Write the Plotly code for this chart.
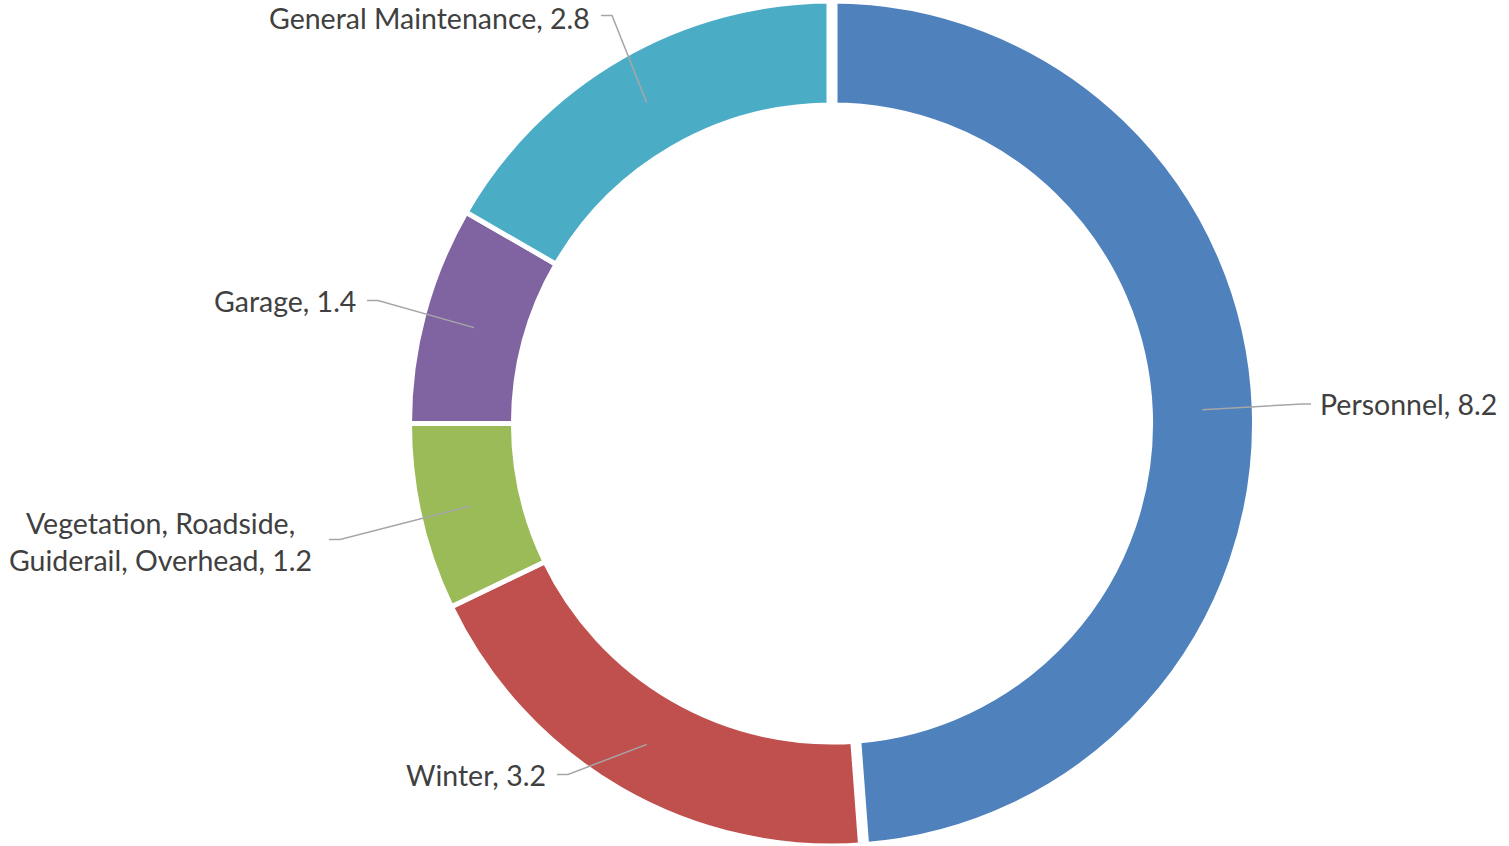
import math
import plotly.graph_objects as go

# ---- data ----
categories = ["Personnel", "Winter", "Vegetation, Roadside, Guiderail, Overhead",
              "Garage", "General Maintenance"]
values = [8.2, 3.2, 1.2, 1.4, 2.8]
colors = ["#4F81BD", "#C0504D", "#9BBB59", "#8064A2", "#4BACC6"]

# ---- layout / styling config ----
W, H = 1509, 846
M_T = 1
PH = H - M_T
CX = 832.0
R = PH / 2.0
CY = M_T + R
HOLE = 0.754
RING_MID = R * (1 + HOLE) / 2.0
FONT = "Lato, 'Open Sans', sans-serif"
FONT_SIZE = 28.5
TEXT_COLOR = "#404040"
LINE_COLOR = "#A6A6A6"
STUB = 11
GAP = 9

# elbow of each leader line, offset from the pie centre in px (y downward)
label_layout = {
    "Personnel": dict(dx=470, dy=-19.5, side="right", stub=9, gap=7),
    "Winter": dict(dx=-264, dy=351, side="left"),
    "Vegetation, Roadside, Guiderail, Overhead": dict(dx=-492, dy=116, side="left",
                                                      brk=", Guiderail", center_x=160),
    "Garage": dict(dx=-454, dy=-123, side="left"),
    "General Maintenance": dict(dx=-220, dy=-408, side="left", text_dy=3),
}


def px_to_paper(x, y):
    return x / W, 1 - (y - M_T) / PH


total = sum(values)
fig = go.Figure()
fig.add_trace(go.Pie(
    labels=categories, values=values, sort=False, direction="clockwise", rotation=0,
    hole=HOLE, marker=dict(colors=colors, line=dict(color="white", width=5)),
    textinfo="none", hoverinfo="label+value", showlegend=False,
    domain=dict(x=[(CX - R - 10) / W, (CX + R + 10) / W], y=[0, 1]),
))

shapes = []
annotations = []

# wider white gaps around the first (slightly exploded) slice
first_bounds = [0.0, values[0] / total * 360.0]
for ang in first_bounds:
    a = math.radians(ang)
    x0, y0 = CX + (R * HOLE - 10) * math.sin(a), CY - (R * HOLE - 10) * math.cos(a)
    x1, y1 = CX + (R + 10) * math.sin(a), CY - (R + 10) * math.cos(a)
    p0, p1 = px_to_paper(x0, y0), px_to_paper(x1, y1)
    shapes.append(dict(type="line", xref="paper", yref="paper", layer="above",
                       x0=p0[0], y0=p0[1], x1=p1[0], y1=p1[1],
                       line=dict(color="white", width=11)))

cum = 0.0
for cat, val in zip(categories, values):
    mid = (cum + val / 2.0) / total * 360.0
    cum += val
    a = math.radians(mid)
    sx, sy = CX + RING_MID * math.sin(a), CY - RING_MID * math.cos(a)
    cfg = label_layout[cat]
    ex, ey = CX + cfg["dx"], CY + cfg["dy"]
    sgn = 1 if cfg["side"] == "right" else -1
    tx = ex + sgn * cfg.get("stub", STUB)
    pts = [px_to_paper(sx, sy), px_to_paper(ex, ey), px_to_paper(tx, ey)]
    path = "M {:.6f},{:.6f} L {:.6f},{:.6f} L {:.6f},{:.6f}".format(
        pts[0][0], pts[0][1], pts[1][0], pts[1][1], pts[2][0], pts[2][1])
    shapes.append(dict(type="path", xref="paper", yref="paper", layer="above",
                       path=path, line=dict(color=LINE_COLOR, width=1.5)))
    name = cat
    if "brk" in cfg:
        name = cat.replace(cfg["brk"], cfg["brk"].replace(" ", "<br>", 1))
    text = f"{name}, {val}"
    if "center_x" in cfg:
        ax, ay = px_to_paper(cfg["center_x"], ey + 2)
        annotations.append(dict(x=ax, y=ay, xref="paper", yref="paper", text=text,
                                showarrow=False, xanchor="center", yanchor="middle",
                                align="center",
                                font=dict(family=FONT, size=FONT_SIZE, color=TEXT_COLOR)))
    else:
        ax, ay = px_to_paper(tx + sgn * cfg.get("gap", GAP), ey + cfg.get("text_dy", 0))
        annotations.append(dict(x=ax, y=ay, xref="paper", yref="paper", text=text,
                                showarrow=False,
                                xanchor="left" if sgn > 0 else "right", yanchor="middle",
                                font=dict(family=FONT, size=FONT_SIZE, color=TEXT_COLOR)))

fig.update_layout(
    width=W, height=H, margin=dict(l=0, r=0, t=M_T, b=0),
    paper_bgcolor="white", plot_bgcolor="white",
    shapes=shapes, annotations=annotations,
)
fig.write_html(
    "out.html",
    config={"displayModeBar": False},
    post_script="document.body.style.margin='0';document.body.style.padding='0';"
                "document.body.style.overflow='hidden';",
)
